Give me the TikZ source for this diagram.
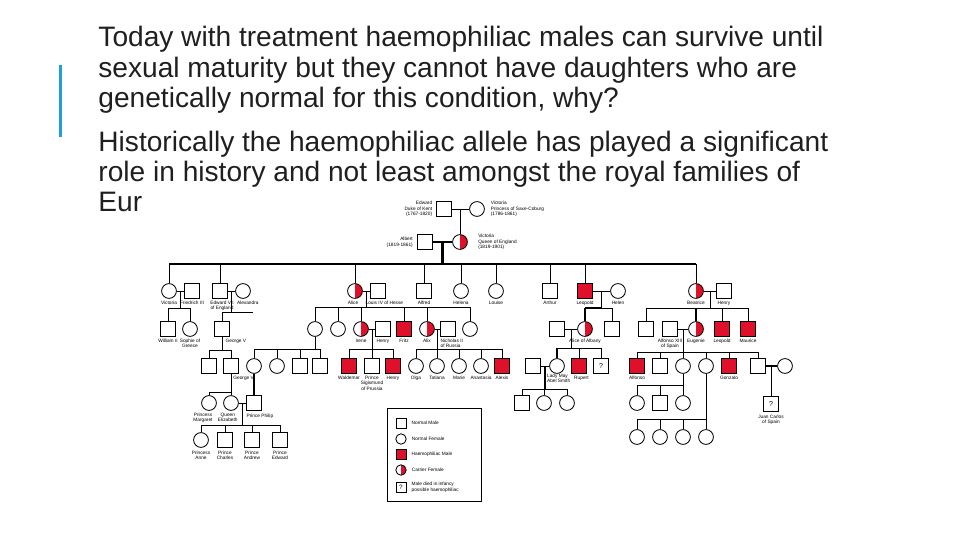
\documentclass[tikz,border=0pt]{standalone}
\usepackage{fontspec}
\setmainfont{Liberation Sans}
\usepackage{tikz}
\usetikzlibrary{positioning,calc}
\definecolor{hred}{HTML}{E0102A}
\definecolor{barblue}{HTML}{1E9FD8}

\begin{document}
\begin{tikzpicture}[x=0.25mm, y=-0.25mm, line width=0.6pt,
    male/.style={draw, rectangle, minimum size=3.7mm, inner sep=0pt, line width=0.6pt},
    female/.style={draw, circle, minimum size=3.7mm, inner sep=0pt, line width=0.6pt},
    hemo/.style={male, fill=hred},
    carrier/.style={female, path picture={\fill[hred] (path picture bounding box.north) rectangle (path picture bounding box.south east);}},
    lbl/.style={font=\fontsize{3.4}{4.0}\selectfont, inner sep=0pt, align=center},
    heavy/.style={line width=1.7pt},
    slide/.style={font=\fontsize{20}{22}\selectfont, anchor=base west, inner sep=0pt, text=black!88}
]
\useasboundingbox (0,0) rectangle (960,540);

% Texte
\fill[barblue] (59,65) rectangle (62,137);
\node[slide] (t1) at (98,46) {Today with treatment haemophiliac males can survive until};
\node[slide] (t2) at (98,77) {sexual maturity but they cannot have daughters who are};
\node[slide] (t3) at (98,107) {genetically normal for this condition, why?};
\node[slide] (t4) at (98,151) {Historically the haemophiliac allele has played a significant};
\node[slide] (t5) at (98,181) {role in history and not least amongst the royal families of};
\node[slide] (t6) at (98,211) {Eur};

% Generation 0
\node[male] (edw) at (444,209) {};
\node[female] (vsc) at (477,209) {};
\node[lbl, align=right, left=0.9mm of edw] (edwL) {Edward\\Duke of Kent\\(1767-1820)};
\node[lbl, align=left, right=1.4mm of vsc] (vscL) {Victoria\\Princess of Saxe-Coburg\\(1786-1861)};
\draw (edw) -- (vsc) coordinate[midway] (m0);

\node[male] (alb) at (425,242) {};
\node[carrier] (qv) at (460,242) {};
\node[lbl, align=right, left=1mm of alb] (albL) {Albert\\(1819-1861)};
\node[lbl, align=left, right=2.5mm of qv] (qvL) {Victoria\\Queen of England\\(1819-1901)};
\draw (m0) -- (m0 |- qv.north);
\draw[heavy] (alb) -- (qv) coordinate[midway] (m1);

% Generation 1
\node[female] (vic1) at (169,291) {};
\node[male] (fr3) at (192,291) {};
\node[male] (ed7) at (220,291) {};
\node[female] (alx) at (243,291) {};
\node[carrier] (alice) at (355,291) {};
\node[male] (lou) at (378,291) {};
\node[male] (alfred) at (424,291) {};
\node[female] (helena) at (461,291) {};
\node[female] (louise) at (496,291) {};
\node[male] (arthur) at (550,291) {};
\node[hemo] (leop) at (585,291) {};
\node[female] (helen) at (618,291) {};
\node[carrier] (bea) at (696,291) {};
\node[male] (henry) at (724,291) {};

\node[lbl, below=0.4mm of vic1] (vic1L) {Victoria};
\node[lbl, below=0.4mm of fr3] (fr3L) {Friedrich III};
\node[lbl, below=0.4mm of ed7, xshift=0.5mm] (ed7L) {Edward VII\\of England};
\node[lbl, below=0.4mm of alx, xshift=1.2mm] (alxL) {Alexandra};
\node[lbl, below=0.4mm of alice, xshift=-0.5mm] (aliceL) {Alice};
\node[lbl, below=0.4mm of lou, xshift=1.6mm] (louL) {Louis IV of Hesse};
\node[lbl, below=0.4mm of alfred] (alfredL) {Alfred};
\node[lbl, below=0.4mm of helena] (helenaL) {Helena};
\node[lbl, below=0.4mm of louise] (louiseL) {Louise};
\node[lbl, below=0.4mm of arthur] (arthurL) {Arthur};
\node[lbl, below=0.4mm of leop] (leopL) {Leopold};
\node[lbl, below=0.4mm of helen] (helenL) {Helen};
\node[lbl, below=0.4mm of bea] (beaL) {Beatrice};
\node[lbl, below=0.4mm of henry] (henryL) {Henry};

\coordinate (s1) at (m1 |- 0,264);
\draw[heavy] (m1) -- (s1);
\draw[heavy] (vic1 |- s1) -- (bea |- s1);
\draw (vic1) -- (vic1 |- s1);
\draw (ed7) -- (ed7 |- s1);
\draw (alice) -- (alice |- s1);
\draw (alfred) -- (alfred |- s1);
\draw (helena) -- (helena |- s1);
\draw (louise) -- (louise |- s1);
\draw (arthur) -- (arthur |- s1);
\draw (leop) -- (leop |- s1);
\draw (bea) -- (bea |- s1);

\draw (vic1) -- (fr3) coordinate[midway] (m2);
\draw (ed7) -- (alx) coordinate[midway] (m3);
\draw (alice) -- (lou) coordinate[midway] (m4);
\draw (leop) -- (helen) coordinate[midway] (m5);
\draw (bea) -- (henry) coordinate[midway] (m6);

% Generation 2
\node[male] (will2) at (168,329) {};
\node[female] (soph) at (190,329) {};
\node[male] (geo5) at (222,329) {};
\node[female] (vict2) at (315,329) {};
\node[female] (ella) at (338,329) {};
\node[carrier] (irene) at (361,329) {};
\node[male] (hpr) at (383,329) {};
\node[hemo] (fritz) at (404,329) {};
\node[carrier] (alix) at (427,329) {};
\node[male] (nic) at (448,329) {};
\node[female] (mary2) at (470,329) {};
\node[male] (atk) at (557,329) {};
\node[carrier] (aoa) at (585,329) {};
\node[male] (ced) at (612,329) {};
\node[male] (bm) at (646,329) {};
\node[male] (alf13) at (670,329) {};
\node[carrier] (ena) at (696,329) {};
\node[hemo] (leo2) at (722,329) {};
\node[hemo] (mau) at (748,329) {};

\node[lbl, below=0.4mm of will2] (will2L) {William II};
\node[lbl, below=0.4mm of soph] (sophL) {Sophie of\\Greece};
\node[lbl, anchor=north west] (geo5L) at ([xshift=0.8mm,yshift=-0.4mm]geo5.south) {George V};
\node[lbl, below=0.4mm of irene] (ireneL) {Irene};
\node[lbl, below=0.4mm of hpr] (hprL) {Henry};
\node[lbl, below=0.4mm of fritz] (fritzL) {Fritz};
\node[lbl, below=0.4mm of alix] (alixL) {Alix};
\node[lbl, align=left, anchor=north west] (nicL) at ([yshift=-0.4mm]nic.south west) {Nicholas II\\of Russia};
\node[lbl, below=0.4mm of aoa] (aoaL) {Alice of Albany};
\node[lbl, below=0.4mm of alf13] (alf13L) {Alfonso XIII\\of Spain};
\node[lbl, below=0.4mm of ena] (enaL) {Eugenie};
\node[lbl, below=0.4mm of leo2] (leo2L) {Leopold};
\node[lbl, below=0.4mm of mau] (mauL) {Maurice};

\coordinate (s2) at (m2 |- 0,308);
\draw (m2) -- (s2);
\draw (will2 |- s2) -- (soph |- s2);
\draw (will2) -- (will2 |- s2);
\draw (soph) -- (soph |- s2);

\coordinate (s3) at (m3 |- 0,312);
\coordinate (s3e) at (253,312);
\draw (m3) -- (s3);
\draw (geo5 |- s3) -- (s3e);
\draw (geo5) -- (geo5 |- s3);

\coordinate (s4) at (m4 |- 0,307);
\draw (m4) -- (s4);
\draw (vict2 |- s4) -- (mary2 |- s4);
\draw (vict2) -- (vict2 |- s4);
\draw (ella) -- (ella |- s4);
\draw (irene) -- (irene |- s4);
\draw (fritz) -- (fritz |- s4);
\draw (alix) -- (alix |- s4);
\draw (mary2) -- (mary2 |- s4);

\coordinate (s5) at (m5 |- 0,308);
\draw (m5) -- (s5);
\draw[heavy] (aoa |- s5) -- (s5);
\draw (s5) -- (ced |- s5);
\draw[heavy] (aoa) -- (aoa |- s5);
\draw (ced) -- (ced |- s5);

\coordinate (s6) at (m6 |- 0,308);
\draw (m6) -- (s6);
\draw (bm |- s6) -- (mau |- s6);
\draw (bm) -- (bm |- s6);
\draw[heavy] (ena) -- (ena |- s6);
\draw (leo2) -- (leo2 |- s6);
\draw (mau) -- (mau |- s6);

\draw (irene) -- (hpr) coordinate[midway] (m7);
\draw (alix) -- (nic) coordinate[midway] (m8);
\draw (atk) -- (aoa) coordinate[midway] (m9);
\draw (alf13) -- (ena) coordinate[midway] (m10);

% Generation 3
\node[male] (ed8) at (209,366) {};
\node[male] (geo6) at (231,366) {};
\node[female] (aob) at (254,366) {};
\node[female] (f277) at (277,366) {};
\node[male] (m300) at (300,366) {};
\node[male] (m320) at (320,366) {};
\node[hemo] (wal) at (349,366) {};
\node[male] (sig) at (372,366) {};
\node[hemo] (hen3) at (393,366) {};
\node[female] (olga) at (416,366) {};
\node[female] (tat) at (437,366) {};
\node[female] (marie) at (459,366) {};
\node[female] (ana) at (481,366) {};
\node[hemo] (alexis) at (502,366) {};
\node[male] (abs) at (533,366) {};
\node[female] (lmay) at (557,366) {};
\node[hemo] (rup) at (579,366) {};
\node[male, font=\fontsize{5}{5}\selectfont] (maur) at (601,366) {?};
\node[hemo] (alfo) at (637,366) {};
\node[male] (jaime) at (660,366) {};
\node[female] (beat) at (683,366) {};
\node[female] (mcris) at (706,366) {};
\node[hemo] (gonz) at (729,366) {};
\node[male] (juan) at (758,366) {};
\node[female] (merc) at (785,366) {};

\node[lbl, anchor=north west] (geo6L) at ([xshift=0.5mm,yshift=-0.4mm]geo6.south) {George VI};
\node[lbl, below=0.4mm of wal] (walL) {Waldemar};
\node[lbl, below=0.4mm of sig] (sigL) {Prince\\Sigismund\\of Prussia};
\node[lbl, below=0.4mm of hen3] (hen3L) {Henry};
\node[lbl, below=0.4mm of olga] (olgaL) {Olga};
\node[lbl, below=0.4mm of tat] (tatL) {Tatiana};
\node[lbl, below=0.4mm of marie] (marieL) {Marie};
\node[lbl, below=0.4mm of ana] (anaL) {Anastasia};
\node[lbl, below=0.4mm of alexis] (alexisL) {Alexis};
\node[lbl, align=left, anchor=north west] (lmayL) at ([xshift=-1.2mm,yshift=-0.4mm]lmay.south west) {Lady May\\Abel Smith};
\node[lbl, below=0.4mm of rup, xshift=0.6mm] (rupL) {Rupert};
\node[lbl, below=0.4mm of alfo] (alfoL) {Alfonso};
\node[lbl, below=0.4mm of gonz] (gonzL) {Gonzalo};

\coordinate (s7) at (geo5 |- 0,350);
\draw (geo5) -- (s7);
\draw (ed8 |- s7) -- (geo6 |- s7);
\draw (ed8) -- (ed8 |- s7);
\draw (geo6) -- (geo6 |- s7);

\coordinate (s8) at (vict2 |- 0,349);
\draw (vict2) -- (s8);
\draw (aob |- s8) -- (m320 |- s8);
\draw (aob) -- (aob |- s8);
\draw (f277) -- (f277 |- s8);
\draw (m300) -- (m300 |- s8);
\draw (m320) -- (m320 |- s8);

\coordinate (s9) at (m7 |- 0,349);
\draw (m7) -- (s9);
\draw (wal |- s9) -- (hen3 |- s9);
\draw (wal) -- (wal |- s9);
\draw (sig) -- (sig |- s9);
\draw (hen3) -- (hen3 |- s9);

\coordinate (s10) at (m8 |- 0,349);
\draw (m8) -- (s10);
\draw (olga |- s10) -- (alexis |- s10);
\draw (olga) -- (olga |- s10);
\draw (tat) -- (tat |- s10);
\draw (marie) -- (marie |- s10);
\draw (ana) -- (ana |- s10);
\draw (alexis) -- (alexis |- s10);

\coordinate (s11) at (m9 |- 0,348);
\draw (m9) -- (s11);
\draw (lmay |- s11) -- (maur |- s11);
\draw[heavy] (lmay) -- (lmay |- s11);
\draw (rup) -- (rup |- s11);
\draw (maur) -- (maur |- s11);

\coordinate (s12) at (m10 |- 0,352);
\draw (m10) -- (s12);
\draw (alfo |- s12) -- (juan |- s12);
\draw (alfo) -- (alfo |- s12);
\draw (jaime) -- (jaime |- s12);
\draw (beat) -- (beat |- s12);
\draw (mcris) -- (mcris |- s12);
\draw (gonz) -- (gonz |- s12);
\draw (juan) -- (juan |- s12);

\draw (abs) -- (lmay) coordinate[midway] (m11);
\draw[heavy] (juan) -- (merc) coordinate[midway] (m12);

% Generation 4
\node[female] (marg) at (209,403) {};
\node[female] (eliz) at (231,403) {};
\node[male] (phil) at (254,403) {};
\node[male] (g4a) at (522,403) {};
\node[female] (g4b) at (544,403) {};
\node[female] (g4c) at (567,403) {};
\node[female] (g4d) at (637,403) {};
\node[male] (g4e) at (660,403) {};
\node[female] (g4f) at (683,403) {};
\node[male, font=\fontsize{5}{5}\selectfont] (jc) at (771,404) {?};

\node[lbl, below=0.4mm of marg, xshift=-1.5mm] (margL) {Princess\\Margaret};
\node[lbl, below=0.4mm of eliz, xshift=-0.8mm] (elizL) {Queen\\Elizabeth};
\node[lbl, anchor=north west] (philL) at ([yshift=-0.8mm]phil.south west) {Prince Philip};
\node[lbl, below=0.6mm of jc] (jcL) {Juan Carlos\\of Spain};

\coordinate (s13) at (geo6 |- 0,392);
\draw (geo6) -- (s13);
\draw (marg |- s13) -- (s13);
\draw (marg) -- (marg |- s13);
\draw (eliz) -- (eliz |- s13);
\draw[heavy] (aob) -- (phil);
\draw (eliz) -- (phil) coordinate[midway] (m13);

\coordinate (s14) at (m11 |- 0,389);
\draw[heavy] (m11) -- (s14);
\draw (g4a |- s14) -- (g4c |- s14);
\draw (g4a) -- (g4a |- s14);
\draw (g4b) -- (g4b |- s14);
\draw (g4c) -- (g4c |- s14);

\coordinate (s15) at (beat |- 0,385);
\draw (beat) -- (s15);
\draw (g4d |- s15) -- (s15);
\draw (g4d) -- (g4d |- s15);
\draw (g4e) -- (g4e |- s15);
\draw (g4f) -- (g4f |- s15);

\draw (m12) -- (m12 |- jc.north);

% Generation 5
\node[female] (anne) at (201,440) {};
\node[male] (charles) at (225,440) {};
\node[male] (andrew) at (252,440) {};
\node[male] (edw5) at (280,440) {};
\node[female] (g5a) at (637,437) {};
\node[female] (g5b) at (660,437) {};
\node[female] (g5c) at (683,437) {};
\node[female] (g5d) at (706,437) {};

\node[lbl, below=0.6mm of anne] (anneL) {Princess\\Anne};
\node[lbl, below=0.6mm of charles] (charlesL) {Prince\\Charles};
\node[lbl, below=0.6mm of andrew] (andrewL) {Prince\\Andrew};
\node[lbl, below=0.6mm of edw5] (edw5L) {Prince\\Edward};

\coordinate (s16) at (m13 |- 0,425);
\draw (m13) -- (s16);
\draw (anne |- s16) -- (edw5 |- s16);
\draw (anne) -- (anne |- s16);
\draw (charles) -- (charles |- s16);
\draw (andrew) -- (andrew |- s16);
\draw (edw5) -- (edw5 |- s16);

\coordinate (s17) at (mcris |- 0,419);
\draw (mcris) -- (s17);
\draw (g5a |- s17) -- (s17);
\draw (g5a) -- (g5a |- s17);
\draw (g5b) -- (g5b |- s17);
\draw (g5c) -- (g5c |- s17);
\draw (g5d) -- (g5d |- s17);

% Legende
\draw (387,408) rectangle (481,501);
\node[male, minimum size=2.5mm] (k1) at (401,423) {};
\node[female, minimum size=2.6mm] (k2) at (401,439) {};
\node[hemo, minimum size=2.5mm] (k3) at (401,454) {};
\node[carrier, minimum size=2.6mm] (k4) at (401,470) {};
\node[male, minimum size=2.5mm, font=\fontsize{4.5}{4.5}\selectfont] (k5) at (401,487) {?};
\node[lbl, align=left, right=1.2mm of k1] (k1L) {Normal Male};
\node[lbl, align=left, right=1.2mm of k2] (k2L) {Normal Female};
\node[lbl, align=left, right=1.2mm of k3] (k3L) {Haemophiliac Male};
\node[lbl, align=left, right=1.2mm of k4] (k4L) {Carrier Female};
\node[lbl, align=left, right=1.2mm of k5] (k5L) {Male died in infancy\\possible haemophiliac};
\end{tikzpicture}
\end{document}
